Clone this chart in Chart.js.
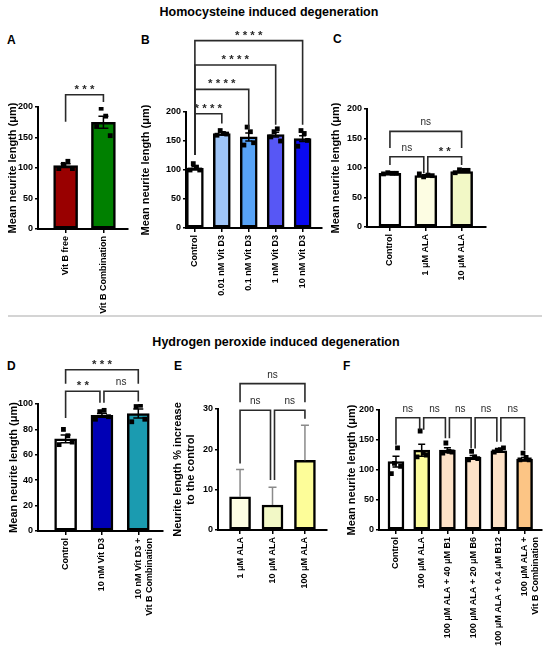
<!DOCTYPE html>
<html>
<head>
<meta charset="utf-8">
<script src="https://cdn.jsdelivr.net/npm/chart.js@4.4.1/dist/chart.umd.min.js"></script>
<style>
  body { margin: 0; background: #fff; width: 550px; height: 651px; position: relative; overflow: hidden;
         font-family: "Liberation Sans", Arial, sans-serif; }
  .hdr { position: absolute; width: 550px; text-align: center; font-weight: bold; font-size: 12.5px; line-height: 14px; }
  .lbl { position: absolute; font-weight: bold; font-size: 12px; line-height: 14px; }
  .sep { position: absolute; left: 8px; width: 534px; top: 315px; height: 2px; background: #d4d4d4; }
</style>
</head>
<body>
<div class="hdr" style="left:-6px;top:5px">Homocysteine induced degeneration</div>
<div class="sep"></div>
<div class="hdr" style="left:1px;top:335px">Hydrogen peroxide induced degeneration</div>
<div class="lbl" style="left:7px;top:33px">A</div>
<div class="lbl" style="left:141px;top:33px">B</div>
<div class="lbl" style="left:333px;top:32px">C</div>
<div class="lbl" style="left:7px;top:359px">D</div>
<div class="lbl" style="left:174px;top:359px">E</div>
<div class="lbl" style="left:343px;top:359px">F</div>

<script>
// ---- data ----
const catA = ["Vit B free", "Vit B Combination"];
const meanA = [104, 175];
const semA = [3, 10];
const ptsA = [[99, 106, 111, 99], [168, 198, 185, 153]];
const sigA = [[0, 1, 220, 176, 208, "***"]];

const catB = ["Control", "0.01 nM Vit D3", "0.1 nM Vit D3", "1 nM Vit D3", "10 nM Vit D3"];
const meanB = [103, 163, 157, 161, 154];
const semB = [2.5, 2.5, 7, 4, 5];
const ptsB = [[100, 111, 105, 100], [160, 168, 163, 162], [143, 174, 166, 147], [157, 166, 171, 150], [141, 168, 163, 151]];
const sigB = [[0, 1, 197, 126, 180, "****"], [0, 2, 239, 126, 169, "****"], [0, 3, 281, 126, 178, "****"], [0, 4, 323, 126, 178, "****"]];

const catC = ["Control", "1 μM ALA", "10 μM ALA"];
const meanC = [91, 87, 94];
const semC = [1, 1.5, 1.2];
const ptsC = [[90, 92, 91, 91], [90, 85, 88, 87], [92, 97, 96, 96]];
const sigC = [[0, 1, 119, 105, 91, "ns"], [1, 2, 119, 91, 105, "**"], [0, 2, 162, 134, 134, "ns"]];

const catD = ["Control", "10 nM Vit D3", ["10 nM Vit D3 +", "Vit B Combination"]];
const meanD = [72.5, 91, 92.5];
const semD = [3, 1.5, 3.5];
const ptsD = [[68, 80, 75, 70], [88, 94, 95, 90], [86, 98, 99, 88]];
const sigD = [[0, 1, 110, 89, 101, "**"], [1, 2, 110, 101, 102, "ns"], [0, 2, 127, 116, 116, "***"]];

const catE = ["1 μM ALA", "10 μM ALA", "100 μM ALA"];
const meanE = [8.2, 6.2, 17.3];
const sdE = [6.8, 4.4, 8.7];
const sigE = [[0, 1, 29.7, 16.5, 12.4, "ns"], [1, 2, 29.7, 12.4, 27.6, "ns"], [0, 2, 36.3, 31.7, 31.7, "ns"]];

const catF = ["Control", "100 μM ALA", "100 μM ALA + 40 μM B1", "100 μM ALA + 20 μM B6",
              "100 μM ALA + 0.4 μM B12", ["100 μM ALA +", "Vit B Combination"]];
const meanF = [114, 133, 133, 121, 132, 118];
const semF = [9, 10, 4, 3, 1.5, 3];
const ptsF = [[94, 111, 137, 106], [122, 165, 128, 125], [128, 145, 131, 130], [117, 131, 122, 119], [130, 133, 134, 137], [117, 128, 121, 117]];
const sigF = [[0, 1, 187, 142, 167, "ns"], [1, 2, 187, 167, 153, "ns"], [2, 3, 187, 153, 136, "ns"],
              [3, 4, 187, 136, 147, "ns"], [4, 5, 187, 147, 133, "ns"]];

const FONT = '"Liberation Sans", Arial, sans-serif';
Chart.defaults.font.family = FONT;
Chart.defaults.color = "#000";

const spread = [-0.18, -0.06, 0.06, 0.18];
const meanTitle = "Mean neurite length (μm)";

// error bars drawn right after the bars, under the points
const errBars = {
  id: "errBars",
  afterDatasetDraw(chart, args, opts) {
    if (args.index !== 0) return;
    const { ctx, scales: { x, y } } = chart;
    ctx.save();
    ctx.strokeStyle = opts.color;
    ctx.lineWidth = 1.5;
    opts.mean.forEach((m, i) => {
      const px = x.getPixelForValue(i);
      const top = y.getPixelForValue(m + opts.err[i]);
      const bot = y.getPixelForValue(opts.upOnly ? m : m - opts.err[i]);
      ctx.beginPath();
      ctx.moveTo(px, bot); ctx.lineTo(px, top);
      ctx.moveTo(px - opts.cap, top); ctx.lineTo(px + opts.cap, top);
      if (!opts.upOnly) { ctx.moveTo(px - opts.cap, bot); ctx.lineTo(px + opts.cap, bot); }
      ctx.stroke();
    });
    ctx.restore();
  }
};

// significance brackets
const sigMarks = {
  id: "sigMarks",
  afterDraw(chart, args, opts) {
    const { ctx, scales: { x, y } } = chart;
    const list = opts.list;
    const shared = (self, i) => list.some(o => o !== self && o[2] === self[2] && (o[0] === i || o[1] === i));
    ctx.save();
    ctx.strokeStyle = "#2a2a2a";
    ctx.fillStyle = "#2a2a2a";
    ctx.lineWidth = 1.6;
    ctx.textAlign = "center";
    ctx.textBaseline = "alphabetic";
    list.forEach(s => {
      const [a, b, lvl, la, lb, txt] = s;
      const xa = x.getPixelForValue(a) + (shared(s, a) ? 2 : 0);
      const xb = x.getPixelForValue(b) - (shared(s, b) ? 2 : 0);
      const yl = y.getPixelForValue(lvl);
      ctx.beginPath();
      ctx.moveTo(xa, y.getPixelForValue(la));
      ctx.lineTo(xa, yl);
      ctx.lineTo(xb, yl);
      ctx.lineTo(xb, y.getPixelForValue(lb));
      ctx.stroke();
      const ns = txt === "ns";
      ctx.font = (ns ? "10px " : "bold 11.5px ") + FONT;
      ctx.fillText(ns ? txt : txt.split("").join(" "), (xa + xb) / 2, yl - (ns ? 6 : 2));
    });
    ctx.restore();
  }
};

const panels = [
  { cats: catA, mean: meanA, err: semA, pts: ptsA, sig: sigA, yMax: 200, yStep: 50,
    colors: ["#990000", "#008000"], xMin: -0.73, xMax: 1.65, bar: 24, cap: 5,
    title: meanTitle, titleX: 13.3, box: [0, 25, 138, 290], area: [38, 107, 128, 229] },
  { cats: catB, mean: meanB, err: semB, pts: ptsB, sig: sigB, yMax: 200, yStep: 50,
    colors: ["#ffffff", "#9fc5f8", "#57a3f7", "#5757f5", "#0a0af0"], xMin: -0.33, xMax: 4.72, bar: 17, cap: 3.5,
    title: meanTitle, titleX: 146.3, box: [133, 20, 193, 295], area: [186, 112, 322, 228] },
  { cats: catC, mean: meanC, err: semC, pts: ptsC, sig: sigC, yMax: 200, yStep: 50,
    colors: ["#ffffff", "#fdfde3", "#f2f8c6"], xMin: -0.64, xMax: 2.68, bar: 22, cap: 4,
    title: meanTitle, titleX: 336.3, box: [324, 20, 170, 295], area: [367, 109, 486, 227] },
  { cats: catD, mean: meanD, err: semD, pts: ptsD, sig: sigD, yMax: 100, yStep: 20,
    colors: ["#ffffff", "#0000b5", "#1b9bb0"], xMin: -0.76, xMax: 2.68, bar: 22, cap: 5,
    title: meanTitle, titleX: 13.5, box: [0, 350, 168, 300], area: [38, 404, 163, 531] },
  { cats: catE, mean: meanE, err: sdE, pts: null, sig: sigE, yMax: 30, yStep: 10, upOnly: true, errColor: "#8a8a8a",
    colors: ["#fdfde3", "#f2f8c6", "#fdfd99"], xMin: -0.68, xMax: 2.68, bar: 21, cap: 4,
    title: ["Neurite length % increase", "to the control"], titleX: 178.3, box: [168, 350, 165, 300], area: [218, 409, 327, 530] },
  { cats: catF, mean: meanF, err: semF, pts: ptsF, sig: sigF, yMax: 200, yStep: 50,
    colors: ["#ffffff", "#fbfb9c", "#fde2c8", "#fde2c8", "#fde2c8", "#fcc585"], xMin: -0.66, xMax: 5.66, bar: 16, cap: 3.5,
    title: meanTitle, titleX: 352, box: [338, 350, 212, 301], area: [379, 410, 542, 530] }
];

function drawPanel(p) {
  const [bl, bt, bw, bh] = p.box;
  const [al, at, ar, ab] = p.area;
  const cv = document.createElement("canvas");
  cv.width = bw;
  cv.height = bh;
  cv.style.cssText = `position:absolute;left:${bl}px;top:${bt}px;width:${bw}px;height:${bh}px`;
  document.body.appendChild(cv);

  const lh = 11 * 1.15;
  const tickFont = { family: FONT, size: 9, weight: "bold" };

  const datasets = [{
    type: "bar",
    order: 2,
    data: p.mean.map((m, i) => ({ x: i, y: m })),
    backgroundColor: p.colors,
    borderColor: "#000",
    borderWidth: 2.5,
    borderSkipped: false,
    barThickness: p.bar
  }];
  if (p.pts) {
    datasets.push({
      type: "scatter",
      order: 1,
      data: p.pts.flatMap((g, i) => g.map((v, j) => ({ x: i + spread[j], y: v }))),
      pointStyle: "rect",
      pointRadius: 3.4,
      backgroundColor: "#000",
      borderWidth: 0
    });
  }

  new Chart(cv, {
    type: "bar",
    data: { datasets },
    options: {
      responsive: false,
      animation: false,
      layout: { padding: { left: 0, top: at - bt, right: bl + bw - ar, bottom: 0 } },
      plugins: {
        legend: { display: false },
        tooltip: { enabled: false },
        errBars: { mean: p.mean, err: p.err, cap: p.cap, upOnly: !!p.upOnly, color: p.errColor || "#000" },
        sigMarks: { list: p.sig }
      },
      scales: {
        x: {
          type: "linear",
          min: p.xMin,
          max: p.xMax,
          offset: false,
          grid: { display: true, offset: false, drawOnChartArea: false, drawTicks: true, tickLength: 4, color: "#000", lineWidth: 1.5 },
          border: { display: true, color: "#000", width: 2 },
          afterBuildTicks: s => { s.ticks = p.cats.map((c, i) => ({ value: i })); },
          ticks: {
            autoSkip: false, maxRotation: 90, minRotation: 90, padding: 3,
            color: "#000", font: tickFont,
            callback: v => p.cats[v]
          },
          afterFit: s => { s.height = bt + bh - ab; }
        },
        y: {
          min: 0,
          max: p.yMax,
          grid: { display: true, drawOnChartArea: false, drawTicks: true, tickLength: 3, color: "#000", lineWidth: 1.5 },
          border: { display: true, color: "#000", width: 2 },
          ticks: { stepSize: p.yStep, padding: 2, color: "#000", font: tickFont },
          title: {
            display: true,
            text: p.title,
            color: "#000",
            font: { family: FONT, size: 11, weight: "bold", lineHeight: 1.15 },
            padding: { top: p.titleX - bl - lh / 2, bottom: 0 }
          },
          afterFit: s => { s.width = al - bl; }
        }
      }
    },
    plugins: [errBars, sigMarks]
  });
}

panels.forEach(drawPanel);
</script>
</body>
</html>
